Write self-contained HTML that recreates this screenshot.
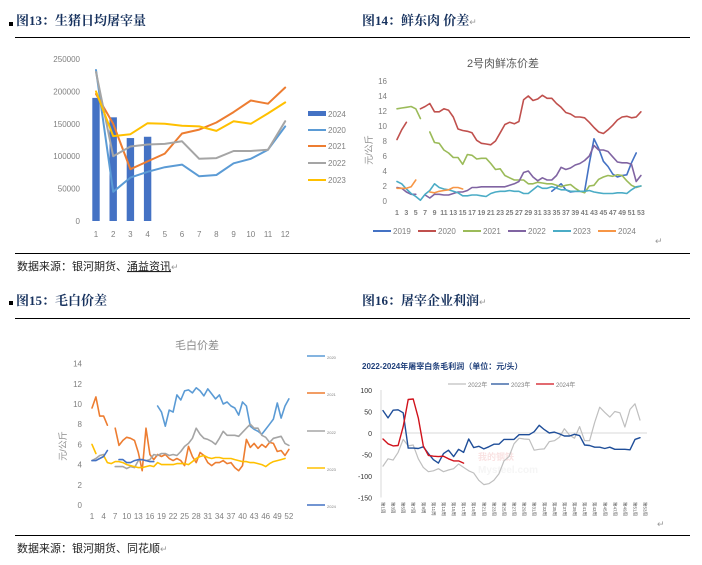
<!DOCTYPE html>
<html><head><meta charset="utf-8">
<style>
html,body{margin:0;padding:0;background:#fff;}
svg{display:block;font-family:"Liberation Sans","Noto Sans CJK SC",sans-serif;}
.ttl{font-family:"Liberation Serif","Noto Serif CJK SC",serif;font-weight:bold;font-size:13px;fill:#17325e;}
.src{font-size:11px;fill:#222;}
</style></head>
<body>
<svg id="s" width="702" height="565" viewBox="0 0 702 565">
<rect x="9" y="22" width="4" height="4" fill="#000"/>
<text class="ttl" x="16" y="25">图13：生猪日均屠宰量</text>
<line x1="15" y1="37.5" x2="351" y2="37.5" stroke="#000"/>
<text class="ttl" x="362" y="25">图14：鲜东肉 价差<tspan fill="#999" font-weight="normal" font-size="9">↵</tspan></text>
<line x1="351" y1="37.5" x2="690" y2="37.5" stroke="#000"/>
<line x1="15" y1="253.5" x2="351" y2="253.5" stroke="#000"/>
<line x1="351" y1="253.5" x2="690" y2="253.5" stroke="#000"/>
<text class="src" x="17" y="270">数据来源：银河期货、<tspan text-decoration="underline">涌益资讯</tspan><tspan fill="#999" font-size="9">↵</tspan></text>
<rect x="9" y="301" width="4" height="4" fill="#000"/>
<text class="ttl" x="16" y="305">图15：毛白价差</text>
<line x1="15" y1="318.5" x2="351" y2="318.5" stroke="#000"/>
<text class="ttl" x="362" y="305">图16：屠宰企业利润<tspan fill="#999" font-weight="normal" font-size="9">↵</tspan></text>
<line x1="351" y1="318.5" x2="690" y2="318.5" stroke="#000"/>
<line x1="15" y1="535.5" x2="351" y2="535.5" stroke="#000"/>
<line x1="351" y1="535.5" x2="690" y2="535.5" stroke="#000"/>
<text class="src" x="17" y="552">数据来源：银河期货、同花顺<tspan fill="#999" font-size="9">↵</tspan></text>
<text x="655" y="244" font-size="9" fill="#999">↵</text>
<text x="657" y="527" font-size="9" fill="#999">↵</text>
<text x="503" y="67" text-anchor="middle" font-size="11" fill="#595959">2号肉鲜冻价差</text>
<text x="197" y="349" text-anchor="middle" font-size="11" fill="#8c8c8c">毛白价差</text>
<text x="362" y="369" font-size="8" font-weight="bold" fill="#1f3f7a">2022-2024年屠宰白条毛利润（单位：元/头）</text>
<text x="478" y="460" font-size="9" font-weight="bold" fill="#f4c7c7" opacity="0.5">我的钢铁</text>
<text x="478" y="459" dy="14" font-size="10" font-weight="bold" fill="#f0f0f0" opacity="0.6">Mysteel.com</text>
<text transform="translate(372,150) rotate(-90)" text-anchor="middle" font-size="9" fill="#8c8c8c">元/公斤</text>
<text transform="translate(66,446) rotate(-90)" text-anchor="middle" font-size="9" fill="#8c8c8c">元/公斤</text>
<g id="g13"></g><g id="g14"></g><g id="g15"></g><g id="g16"></g>
</svg>
<script>
// ---- Chart 13 data
const c13Months = [1,2,3,4,5,6,7,8,9,10,11,12];
const c13YTicks = [0,50000,100000,150000,200000,250000];
const c13Bars2024 = [190000,160000,128000,130000];
const c13S2020 = [233000,45000,67000,76000,83000,87000,69000,71000,89000,96000,110000,146000];
const c13S2021 = [196000,150000,80000,92000,104000,135000,141000,152000,168000,186000,181000,206000];
const c13S2022 = [230000,100000,115000,118000,119000,123000,96000,97000,108000,108000,110000,154000];
const c13S2023 = [200000,131000,134000,151000,150000,147000,146000,139000,154000,150000,166000,183000];
// ---- Chart 14 data (weeks 1..53)
const c14Weeks = Array.from({length:53},(_,i)=>i+1);
const c14YTicks = [0,2,4,6,8,10,12,14,16];
const N=null;
const c14S2019 = [N,N,N,N,N,N,N,N,N,N,N,N,N,N,N,N,N,N,N,N,N,N,N,N,N,N,N,N,N,N,N,N,N,1.3,1.8,2.3,1.5,1.2,1.3,1.3,1.3,5.0,8.3,7.0,5.3,4.6,3.6,3.2,3.4,3.5,5.1,6.4,N];
const c14S2020 = [8.2,9.5,10.5,N,N,12.3,12.6,13,11.9,11.9,12.3,12.1,11.2,9.6,9.4,9.3,9.1,8.1,7.7,7.6,7.5,8.0,9.1,10.2,10.5,10.3,10.6,13.5,14,13.4,13.6,14.1,13.7,13.7,13,12.5,11.8,11.6,11.2,11.2,11.1,10.5,9.8,9.2,9.0,9.5,10.1,10.8,11.2,11.3,11.1,11.2,11.9];
const c14S2021 = [12.3,12.4,12.5,12.6,12.3,11.0,N,9.2,7.8,7.7,6.8,6.4,5.8,5.8,4.9,6.2,6.1,5.6,5.7,5.7,5.0,4.2,4.3,3.4,3.1,2.8,2.8,2.8,2.3,2.3,2.5,2.4,2.3,2.3,2.1,1.9,2.1,2.2,1.7,1.3,1.1,2.0,2.1,2.9,3.2,3.4,3.3,3.5,3.4,2.7,2.1,1.8,2.0];
const c14S2022 = [1.8,1.7,1.2,0.9,0.9,N,0.8,0.4,0.9,0.9,0.8,0.8,1.0,1.2,1.2,1.4,1.8,1.8,1.9,1.9,1.9,1.9,1.9,1.9,2.1,2.3,2.6,3.8,4.0,3.2,2.7,3.1,2.8,2.8,3.4,4.5,4.2,4.4,4.8,5.0,5.4,6.0,7.4,6.8,6.8,6.6,5.9,5.2,5.1,5.1,4.9,2.6,3.4];
const c14S2023 = [2.6,2.3,1.6,1.0,0.6,0.1,0.9,1.4,2.3,1.8,1.6,1.5,1.3,1.1,0.7,0.7,0.8,0.8,0.7,0.6,1.0,1.2,1.3,1.3,1.4,1.3,1.3,1.0,1.0,1.5,2.0,1.7,1.7,1.9,1.7,1.5,1.5,1.3,1.3,1.3,1.3,1.4,1.2,1.1,1.0,1.0,1.0,1.1,1.1,1.0,1.5,1.9,2.0];
const c14S2024 = [1.7,1.7,1.7,1.9,2.8,N,N,1.2,1.1,1.3,1.4,1.5,1.8,1.8,1.6];
// ---- Chart 15 data (weeks 1..52)
const c15Weeks = Array.from({length:52},(_,i)=>i+1);
const c15XLabels = [1,4,7,10,13,16,19,22,25,28,31,34,37,40,43,46,49,52];
const c15YTicks = [0,2,4,6,8,10,12,14];
const c15S2020 = [N,N,N,N,N,N,N,N,N,N,N,N,N,N,N,N,N,9.8,9.2,7.8,9.4,9.2,10.9,10.4,11.3,11.4,11.1,11.6,11.3,10.8,11.5,11.0,10.5,10.9,10.0,10.2,9.8,9.6,8.9,10.2,9.8,7.8,7.5,7.3,7.0,7.5,8.0,8.5,10.1,8.6,9.8,10.5];
const c15S2021 = [9.6,10.7,8.8,8.8,7.9,N,7.6,5.9,6.4,6.7,6.6,6.4,5.2,3.4,7.6,5.0,4.5,5.0,4.8,5.0,4.6,4.4,4.6,4.4,3.9,5.8,4.8,4.2,5.2,4.9,4.2,3.9,4.2,4.2,4.4,4.1,4.2,3.7,3.4,3.9,6.5,5.7,6.1,5.6,6.0,5.7,6.2,6.1,5.3,5.4,4.9,5.5];
const c15S2022 = [4.4,4.6,4.9,5.0,N,N,3.8,3.8,3.8,3.6,3.8,3.7,4.4,4.5,4.4,4.5,5.0,4.9,5.1,5.1,4.9,5.0,4.9,5.3,5.8,6.1,6.6,7.6,7.0,6.6,6.5,6.3,6.0,6.6,7.3,6.9,6.9,6.9,6.8,7.2,7.6,8.0,7.6,7.6,6.9,6.7,6.2,6.6,6.7,6.8,6.1,5.9];
const c15S2023 = [6.0,5.1,N,4.9,4.2,4.1,4.3,4.3,4.2,4.0,3.9,3.8,3.7,3.7,3.8,3.9,3.8,4.2,4.0,4.0,4.0,4.0,4.1,4.1,4.1,4.0,4.3,4.6,4.8,4.9,4.7,4.6,4.7,4.7,4.6,4.6,4.6,4.5,4.4,4.3,4.3,4.2,4.2,4.1,4.0,3.8,4.1,4.3,4.4,4.5,4.6,N];
const c15S2024 = [4.4,4.4,4.6,4.8,5.4,N,N,4.5,4.5,4.2,4.2,4.4,4.5,4.5,4.4,4.3,4.3];
// ---- Chart 16 data (weeks 1..53)
const c16Weeks = Array.from({length:53},(_,i)=>i+1);
const c16YTicks = [-150,-100,-50,0,50,100];
const c16S2022 = [-77,-60,-63,-45,-15,-30,-28,-60,-80,-90,-88,-83,-90,-86,-83,-72,-80,-88,-93,-110,-120,-118,-110,-95,-65,-55,-25,-12,-14,-15,-40,-38,-37,-20,-18,-10,10,-5,-12,15,-18,-18,25,60,48,37,50,47,14,55,68,30];
const c16S2023 = [52,35,53,54,47,-35,-35,-36,-32,-48,-62,-70,-48,-40,-55,-38,-45,-14,-34,-31,-37,-32,-26,-26,-15,-15,-15,-4,-4,-4,3,18,8,0,2,-2,-7,-7,-3,-6,-28,-29,-33,-33,-36,-33,-38,-38,-38,-39,-15,-11];
const c16S2024 = [-14,-25,-30,-29,15,78,79,35,-30,-52,-54,-55,-54,-60,-65,-65,-70];

const NS='http://www.w3.org/2000/svg';
function mk(parent,tag,attrs){const e=document.createElementNS(NS,tag);for(const k in attrs)e.setAttribute(k,attrs[k]);parent.appendChild(e);return e;}
function pathD(vals,xf,yf){let d='',pen=false;vals.forEach((v,i)=>{if(v===null){pen=false;return;}d+=(pen?'L':'M')+xf(i+1).toFixed(1)+','+yf(v).toFixed(1);pen=true;});return d;}
function addLine(g,vals,xf,yf,color,w,name){
  const p=mk(g,'path',{d:pathD(vals,xf,yf),fill:'none',stroke:color,'stroke-width':w,'stroke-linejoin':'round','stroke-linecap':'round'});
  
  
}
function addText(g,x,y,str,attrs,name){
  const t=mk(g,'text',Object.assign({x:x,y:y},attrs));t.textContent=str;
  
  
  return t;
}
function addLegend(g,x,y,color,label,w,fs,name){
  const l=mk(g,'line',{x1:x,y1:y,x2:x+18,y2:y,stroke:color,'stroke-width':w});
  
  
  addText(g,x+20,y+3,label,{'font-size':fs,fill:'#7f7f7f'},name+'-label');
}

// ---- Chart 13
(function(){
  const g=document.getElementById('g13');
  const x=m=>96+(m-1)*17.2, y=v=>221-v/250000*162;
  c13YTicks.forEach(t=>addText(g,80,y(t)+3,String(t),{'font-size':8,fill:'#7f7f7f','text-anchor':'end'},'y-tick-13'));
  c13Months.forEach(m=>addText(g,x(m),237,String(m),{'font-size':8,fill:'#7f7f7f','text-anchor':'middle'},'x-tick-13'));
  c13Bars2024.forEach((v,i)=>{
    const r=mk(g,'rect',{x:x(i+1)-3.7,y:y(v),width:7.4,height:221-y(v),fill:'#4472c4'});
    
    
  });
  addLine(g,c13S2020,x,y,'#5b9bd5',2,'line-2020');
  addLine(g,c13S2021,x,y,'#ed7d31',2,'line-2021');
  addLine(g,c13S2022,x,y,'#a5a5a5',2,'line-2022');
  addLine(g,c13S2023,x,y,'#ffc000',2,'line-2023');
  const lr=mk(g,'rect',{x:308,y:111,width:18,height:5,fill:'#4472c4'});
  
  
  addText(g,328,117,'2024',{'font-size':8,fill:'#7f7f7f'},'legend-2024-label');
  [['#5b9bd5','2020',130],['#ed7d31','2021',146],['#a5a5a5','2022',163],['#ffc000','2023',180]].forEach(a=>addLegend(g,308,a[2],a[0],a[1],2,8,'legend-'+a[1]));
})();

// ---- Chart 14
(function(){
  const g=document.getElementById('g14');
  const x=w=>397+(w-1)*4.69, y=v=>201-v*7.5;
  c14YTicks.forEach(t=>addText(g,387,y(t)+3,String(t),{'font-size':8,fill:'#7f7f7f','text-anchor':'end'},'y-tick-14'));
  c14Weeks.filter(w=>w%2===1).forEach(w=>addText(g,x(w),215,String(w),{'font-size':7,fill:'#7f7f7f','text-anchor':'middle','font-weight':'bold'},'x-tick-14'));
  addLine(g,c14S2019,x,y,'#4472c4',1.6,'line-2019');
  addLine(g,c14S2020,x,y,'#c0504d',1.6,'line-2020');
  addLine(g,c14S2021,x,y,'#9bbb59',1.6,'line-2021');
  addLine(g,c14S2022,x,y,'#8064a2',1.6,'line-2022');
  addLine(g,c14S2023,x,y,'#4bacc6',1.6,'line-2023');
  addLine(g,c14S2024,x,y,'#f79646',1.6,'line-2024');
  [['#4472c4','2019',373],['#c0504d','2020',418],['#9bbb59','2021',463],['#8064a2','2022',508],['#4bacc6','2023',553],['#f79646','2024',598]].forEach(a=>addLegend(g,a[2],231,a[0],a[1],2,8,'legend-'+a[1]));
})();

// ---- Chart 15
(function(){
  const g=document.getElementById('g15');
  const x=w=>92+(w-1)*3.86, y=v=>505-v*10.1;
  c15YTicks.forEach(t=>addText(g,82,y(t)+3,String(t),{'font-size':8,fill:'#7f7f7f','text-anchor':'end'},'y-tick-15'));
  c15XLabels.forEach(w=>addText(g,x(w),519,String(w),{'font-size':8,fill:'#7f7f7f','text-anchor':'middle'},'x-tick-15'));
  addLine(g,c15S2020,x,y,'#5b9bd5',1.6,'line-2020');
  addLine(g,c15S2021,x,y,'#ed7d31',1.6,'line-2021');
  addLine(g,c15S2022,x,y,'#a5a5a5',1.6,'line-2022');
  addLine(g,c15S2023,x,y,'#ffc000',1.6,'line-2023');
  addLine(g,c15S2024,x,y,'#4472c4',1.6,'line-2024');
  [['#5b9bd5','2020',356],['#ed7d31','2021',393],['#a5a5a5','2022',431],['#ffc000','2023',468],['#4472c4','2024',505]].forEach(a=>addLegend(g,307,a[2],a[0],a[1],1.5,4,'legend-'+a[1]));
})();

// ---- Chart 16
(function(){
  const g=document.getElementById('g16');
  const x=w=>383+(w-1)*5.04, y=v=>433-v*0.43;
  const ax=mk(g,'line',{x1:381,y1:y(100),x2:381,y2:y(-150),stroke:'#d9d9d9','stroke-width':1});
  
  
  const zl=mk(g,'line',{x1:381,y1:y(0),x2:647,y2:y(0),stroke:'#d9d9d9','stroke-width':1});
  
  
  c16YTicks.forEach(t=>addText(g,372,y(t)+3,String(t),{'font-size':7,fill:'#333','text-anchor':'end'},'y-tick-16'));
  c16Weeks.filter(w=>w%2===1).forEach(w=>{
    addText(g,0,0,'第'+w+'周',{'font-size':4.5,fill:'#595959',transform:'translate('+(x(w)-1.5)+',502) rotate(90)'},'x-tick-16');
  });
  addLine(g,c16S2022,x,y,'#bfbfbf',1.2,'line-2022');
  addLine(g,c16S2023,x,y,'#1f4e99',1.4,'line-2023');
  addLine(g,c16S2024,x,y,'#d0121b',1.4,'line-2024');
  [['#bfbfbf','2022年',448],['#1f4e99','2023年',491],['#d0121b','2024年',536]].forEach(a=>addLegend(g,a[2],384,a[0],a[1],1.2,6,'legend-'+a[1]));
})();
</script>
</body></html>
